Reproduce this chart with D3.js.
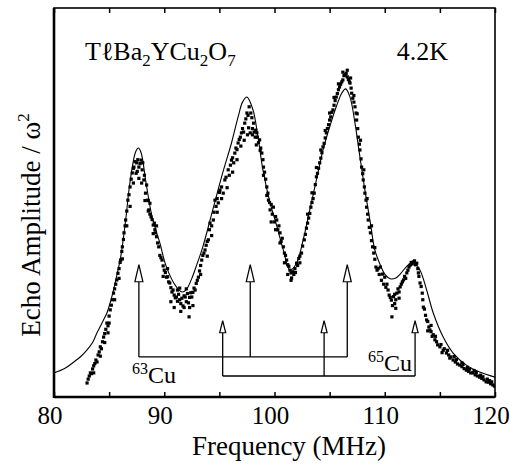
<!DOCTYPE html>
<html>
<head>
<meta charset="utf-8">
<script src="https://cdn.jsdelivr.net/npm/d3@7"></script>
<style>
  body { margin: 0; background: #fff; }
</style>
</head>
<body>
<svg id="chart" width="510" height="466"></svg>
<script>
// fitted line shape (frequency MHz, amplitude a.u.)
const fitCurve = [
  [80.0, 6.2], [81.0, 7.4], [81.8, 9.0], [82.5, 10.6], [83.0, 12.1], [83.5, 14.0], [83.9, 16.5],
  [84.4, 19.3], [84.8, 21.6], [85.1, 24.3], [85.4, 27.5], [85.7, 31.3], [86.05, 36.0], [86.5, 45.5],
  [86.8, 53.2], [87.1, 59.1], [87.4, 63.0], [87.65, 64.0], [87.9, 62.8], [88.35, 55.0], [88.9, 46.3],
  [89.6, 39.6], [90.2, 33.4], [91.1, 28.3], [91.6, 27.0], [92.0, 27.6], [92.5, 30.5], [93.0, 34.4],
  [93.5, 38.6], [94.4, 48.1], [95.3, 57.6], [96.1, 65.3], [96.7, 72.0], [97.1, 75.8], [97.5, 77.1],
  [98.05, 73.8], [98.5, 66.8], [98.95, 58.4], [99.6, 49.9], [100.2, 44.0], [100.8, 37.8], [101.4, 32.6],
  [102.0, 34.4], [102.6, 40.4], [103.2, 48.1], [103.8, 55.8], [104.4, 63.5], [105.0, 69.4], [105.6, 74.6],
  [106.1, 78.1], [106.45, 79.2], [106.85, 77.1], [107.3, 70.4], [107.75, 61.7], [108.2, 53.2],
  [108.7, 44.7], [109.1, 37.8], [109.6, 33.9], [110.0, 31.6], [110.5, 30.4], [111.0, 30.6], [111.4, 31.6],
  [112.0, 33.6], [112.6, 34.7], [113.2, 32.6], [113.8, 27.5], [114.4, 21.6], [115.3, 15.4], [116.2, 11.3],
  [117.4, 8.2], [118.6, 6.4], [120.0, 5.1]
];

// measured echo points
const echoMain = [
  [83.0, 3.6], [83.1, 4.6], [83.2, 5.4], [83.3, 6.2], [83.4, 6.0], [83.5, 7.2], [83.6, 8.0], [83.7, 8.6],
  [83.8, 9.5], [83.9, 9.0], [84.0, 10.8], [84.1, 11.6], [84.2, 12.9], [84.3, 12.4], [84.4, 14.2], [84.5, 15.4],
  [84.6, 16.3], [84.7, 17.4], [84.8, 19.0], [84.9, 18.3], [85.0, 20.8], [85.1, 22.4], [85.2, 23.6], [85.3, 25.0],
  [85.4, 26.7], [85.5, 27.8], [85.6, 29.0], [85.7, 30.1], [85.8, 31.8], [85.9, 33.0], [86.0, 34.6], [86.05, 35.2],
  [86.15, 37.4], [86.2, 38.6], [86.3, 40.5], [86.35, 42.2], [86.45, 44.0], [86.5, 45.5], [86.6, 47.8], [86.7, 50.6],
  [86.8, 52.0], [86.9, 54.0], [87.0, 56.0], [87.1, 57.6], [87.2, 58.8], [87.25, 59.1], [87.35, 60.5], [87.5, 60.2],
  [87.55, 58.0], [87.6, 61.0], [87.7, 59.1], [87.8, 60.0], [87.9, 60.9], [88.0, 58.4], [88.05, 60.2], [88.15, 55.8],
  [88.2, 57.0], [88.3, 52.4], [88.4, 54.5], [88.5, 50.6], [88.55, 47.8], [88.6, 48.1], [88.7, 47.0], [88.8, 46.3],
  [88.9, 45.6], [89.0, 44.2], [89.1, 44.7], [89.15, 43.0], [89.2, 42.2], [89.3, 41.2], [89.4, 39.6], [89.5, 38.6],
  [89.6, 36.4], [89.7, 35.8], [89.8, 35.2], [89.9, 33.7], [90.0, 32.6], [90.1, 32.0], [90.2, 30.8], [90.3, 30.9],
  [90.4, 29.6], [90.5, 29.3], [90.6, 28.1], [90.7, 27.0], [90.8, 27.5], [90.9, 26.2], [91.0, 25.5], [91.1, 25.7],
  [91.2, 24.6], [91.3, 26.4], [91.4, 25.0], [91.5, 24.0], [91.6, 25.4], [91.7, 23.4], [91.8, 26.0], [91.9, 25.7],
  [92.0, 24.5], [92.1, 26.6], [92.2, 24.2], [92.25, 20.6], [92.3, 23.0], [92.4, 26.8], [92.5, 25.7], [92.6, 26.9],
  [92.7, 28.0], [92.8, 27.5], [92.9, 29.2], [93.0, 30.0], [93.1, 30.8], [93.2, 32.4], [93.3, 33.8], [93.4, 35.2],
  [93.5, 36.4], [93.6, 37.0], [93.7, 37.8], [93.8, 39.0], [93.9, 40.0], [94.0, 40.4], [94.1, 43.0], [94.15, 44.7],
  [94.3, 44.0], [94.45, 45.5], [94.5, 47.5], [94.6, 50.6], [94.7, 49.0], [94.8, 51.0], [94.9, 49.9], [95.0, 52.6],
  [95.05, 53.2], [95.2, 54.0], [95.35, 52.4], [95.5, 55.8], [95.6, 56.5], [95.8, 58.4], [95.9, 57.0], [96.0, 59.6],
  [96.1, 60.9], [96.2, 61.5], [96.3, 60.2], [96.4, 62.7], [96.5, 64.0], [96.6, 63.6], [96.7, 65.3], [96.8, 66.2],
  [96.9, 66.8], [97.0, 67.9], [97.1, 69.0], [97.2, 68.1], [97.3, 70.4], [97.4, 71.5], [97.5, 73.0], [97.55, 67.4],
  [97.6, 72.4], [97.7, 74.6], [97.8, 67.9], [97.85, 73.0], [97.95, 71.8], [98.0, 69.0], [98.1, 70.4], [98.15, 68.1],
  [98.25, 66.8], [98.3, 68.6], [98.4, 67.9], [98.45, 66.8], [98.55, 65.4], [98.65, 66.1], [98.75, 64.0], [98.85, 62.7],
  [98.95, 61.0], [99.0, 59.1], [99.1, 57.8], [99.2, 56.0], [99.3, 54.0], [99.4, 52.4], [99.45, 50.6], [99.55, 50.0],
  [99.6, 48.1], [99.7, 49.5], [99.8, 47.0], [99.9, 48.8], [100.0, 45.0], [100.1, 46.4], [100.2, 45.5], [100.3, 43.0],
  [100.4, 44.0], [100.5, 42.2], [100.6, 40.0], [100.7, 40.8], [100.8, 38.6], [100.9, 37.0], [101.0, 36.4], [101.1, 35.2],
  [101.2, 34.0], [101.3, 33.6], [101.4, 32.6], [101.5, 31.9], [101.55, 30.6], [101.65, 32.2], [101.75, 31.5], [101.85, 33.0],
  [102.0, 34.4], [102.1, 33.8], [102.2, 35.6], [102.3, 36.2], [102.45, 37.0], [102.55, 38.8], [102.7, 40.4], [102.8, 41.8],
  [102.9, 43.4], [103.0, 44.7], [103.1, 46.0], [103.2, 47.2], [103.3, 48.8], [103.4, 50.0], [103.5, 51.0], [103.6, 52.4],
  [103.7, 54.6], [103.8, 56.6], [103.9, 57.5], [104.0, 58.8], [104.1, 60.2], [104.2, 61.4], [104.3, 62.8], [104.4, 64.3],
  [104.5, 65.2], [104.6, 66.6], [104.7, 67.9], [104.8, 69.0], [104.9, 70.0], [105.0, 71.2], [105.1, 72.0], [105.2, 73.2],
  [105.3, 73.8], [105.4, 75.0], [105.5, 76.2], [105.6, 77.1], [105.7, 78.0], [105.8, 79.0], [105.9, 79.7], [106.0, 80.4],
  [106.1, 81.0], [106.2, 81.5], [106.3, 82.6], [106.4, 82.8], [106.5, 83.2], [106.6, 82.3], [106.7, 81.6], [106.8, 81.0],
  [106.85, 80.7], [106.95, 79.4], [107.0, 78.1], [107.1, 76.8], [107.2, 75.8], [107.3, 74.6], [107.4, 73.0], [107.45, 71.2],
  [107.55, 69.0], [107.6, 66.8], [107.7, 65.0], [107.75, 63.5], [107.85, 61.2], [107.9, 59.1], [108.0, 57.4], [108.05, 55.8],
  [108.15, 54.0], [108.2, 52.4], [108.3, 50.6], [108.35, 48.8], [108.45, 47.0], [108.5, 45.5], [108.6, 43.6], [108.7, 42.2],
  [108.8, 40.2], [108.9, 38.6], [109.0, 37.0], [109.1, 35.4], [109.2, 33.4], [109.3, 32.6], [109.4, 33.0], [109.5, 31.5],
  [109.6, 33.4], [109.7, 30.0], [109.8, 31.6], [109.9, 29.0], [110.0, 30.8], [110.1, 28.2], [110.2, 29.0], [110.3, 27.5],
  [110.4, 26.2], [110.5, 25.6], [110.6, 24.9], [110.65, 20.6], [110.7, 23.5], [110.8, 25.8], [110.9, 26.4], [111.0, 25.0],
  [111.1, 26.7], [111.2, 27.8], [111.3, 27.0], [111.4, 28.3], [111.5, 29.0], [111.6, 29.6], [111.7, 30.1], [111.8, 31.0],
  [111.9, 30.5], [112.0, 31.9], [112.1, 32.6], [112.2, 33.4], [112.3, 33.9], [112.4, 34.6], [112.5, 34.2], [112.6, 34.7],
  [112.7, 35.0], [112.8, 34.0], [112.9, 34.4], [113.0, 33.0], [113.05, 31.9], [113.1, 31.0], [113.2, 29.3], [113.3, 28.4],
  [113.4, 26.7], [113.45, 25.0], [113.5, 23.1], [113.6, 22.6], [113.7, 21.0], [113.8, 19.8], [113.9, 19.4], [114.0, 18.0],
  [114.1, 17.2], [114.2, 16.8], [114.3, 15.6], [114.4, 16.0], [114.55, 14.7], [114.7, 14.2], [114.8, 13.4], [115.0, 12.9],
  [115.1, 13.5], [115.3, 12.0], [115.4, 12.4], [115.6, 11.3], [115.8, 10.8], [115.9, 10.0], [116.0, 10.3], [116.2, 9.5],
  [116.4, 9.0], [116.5, 9.6], [116.6, 8.5], [116.8, 8.2], [117.0, 7.8], [117.1, 8.4], [117.2, 7.3], [117.4, 6.9],
  [117.6, 6.6], [117.7, 7.2], [117.8, 6.2], [118.0, 6.2], [118.2, 5.7], [118.3, 6.3], [118.4, 5.4], [118.6, 5.1],
  [118.8, 4.8], [118.9, 5.2], [119.0, 4.4], [119.2, 3.9], [119.4, 3.8], [119.5, 4.2], [119.6, 3.4], [119.8, 3.1],
  [119.95, 2.8]
];

// second sweep, scattered around the first
const echoExtra = [
  [83.6, 6.2], [84.2, 10.5], [84.6, 14.0], [84.9, 16.5], [85.0, 19.0], [85.5, 25.0], [85.9, 30.5], [86.2, 35.5],
  [86.6, 44.0], [86.9, 49.0], [87.2, 55.0], [87.45, 57.5], [87.7, 56.2], [87.95, 55.0], [88.25, 50.5], [88.55, 50.5],
  [88.7, 49.8], [89.0, 42.0], [89.3, 44.0], [89.9, 31.0], [90.3, 33.0],
  [90.6, 24.5], [90.9, 23.0], [91.2, 27.5], [91.4, 28.0], [91.5, 22.0], [91.8, 23.0], [92.0, 27.8], [92.3, 25.6], [92.6, 23.5],
  [93.3, 31.5], [93.9, 36.2], [94.3, 41.5], [94.8, 47.5], [95.2, 51.0], [95.7, 53.8], [96.2, 57.8], [96.6, 61.0],
  [96.95, 64.5], [97.25, 66.0], [97.65, 69.2], [98.0, 67.4], [98.35, 64.8], [98.7, 63.4], [99.0, 57.0], [99.3, 51.8],
  [99.7, 45.0], [100.1, 43.0], [100.5, 39.6], [100.9, 34.5], [101.2, 31.5], [101.5, 30.0], [101.9, 32.0], [102.3, 34.5],
  [103.0, 47.0], [103.4, 52.5], [103.8, 59.0], [104.2, 63.5], [104.6, 68.5], [105.0, 73.0], [105.4, 77.0], [105.8, 80.5],
  [106.2, 83.5], [106.6, 84.0], [106.9, 82.0], [107.2, 77.5], [107.5, 72.8], [107.8, 66.0], [108.1, 58.4], [108.4, 51.0],
  [108.8, 44.0], [109.1, 38.4], [110.9, 24.0], [111.0, 22.8], [111.3, 25.4],
  [113.9, 17.0], [114.2, 18.4], [114.6, 15.6], [115.2, 11.4], [115.7, 12.0], [116.3, 10.4], [117.0, 8.8], [117.5, 7.6],
  [118.1, 6.8], [118.7, 5.6], [119.3, 4.6], [119.7, 3.9]
];

// line positions marked by arrows (MHz)
const cu63Lines = [87.7, 97.8, 106.6];
const cu65Lines = [95.3, 104.5, 112.75];
const xTickLabels = [80, 90, 100, 110, 120];

const serif = "'Liberation Serif', 'Times New Roman', Times, serif";

const svg = d3.select("#chart");
const plotL = 54, plotR = 495, plotT = 8, plotB = 397;

const x = d3.scaleLinear().domain([80, 120]).range([plotL, plotR]);
const y = d3.scaleLinear().domain([0, 100]).range([plotB, plotT]);

// clip so nothing spills out of the frame
svg.append("clipPath").attr("id", "plotClip")
    .append("rect")
    .attr("x", plotL).attr("y", plotT)
    .attr("width", plotR - plotL).attr("height", plotB - plotT);

const plot = svg.append("g").attr("clip-path", "url(#plotClip)");

const line = d3.line()
    .x(d => x(d[0]))
    .y(d => y(d[1]))
    .curve(d3.curveCatmullRom.alpha(0.5));

plot.append("path")
    .datum(fitCurve)
    .attr("d", line)
    .attr("fill", "none")
    .attr("stroke", "#000")
    .attr("stroke-width", 1.1);

plot.selectAll(".dot")
    .data(echoMain.concat(echoExtra))
    .enter()
    .append("rect")
    .attr("class", "dot")
    .attr("x", d => x(d[0]) - 1.6)
    .attr("y", d => y(d[1]) - 1.6)
    .attr("width", 3.2)
    .attr("height", 3.2)
    .attr("fill", "#000");

// arrow sets
function arrowSet(freqs, baseAmp, tipAmp, headLen, headW) {
    const g = svg.append("g")
        .attr("stroke", "#000")
        .attr("stroke-width", 1.3);
    const yb = y(baseAmp), yt = y(tipAmp);

    g.append("line")
        .attr("x1", x(freqs[0])).attr("x2", x(freqs[freqs.length - 1]))
        .attr("y1", yb).attr("y2", yb);

    g.selectAll(".stem")
        .data(freqs)
        .enter()
        .append("line")
        .attr("x1", d => x(d)).attr("x2", d => x(d))
        .attr("y1", yb).attr("y2", yt + headLen);

    g.selectAll(".head")
        .data(freqs)
        .enter()
        .append("path")
        .attr("d", d => `M${x(d)},${yt} L${x(d) - headW / 2},${yt + headLen} L${x(d) + headW / 2},${yt + headLen} Z`)
        .attr("fill", "#fff")
        .attr("stroke-width", 1.2);
}

arrowSet(cu63Lines, 10.3, 34.0, 17, 8);
arrowSet(cu65Lines, 5.4, 19.6, 12, 6);

function addText(xp, yp, size, anchor) {
    return svg.append("text")
        .attr("x", xp).attr("y", yp)
        .attr("text-anchor", anchor || "start")
        .style("font-family", serif)
        .style("font-size", size + "px")
        .attr("fill", "#000");
}

const lab63 = addText(132, 383, 24);
lab63.append("tspan").style("font-size", "16px").attr("dy", -9).text("63");
lab63.append("tspan").attr("dy", 9).text("Cu");

const lab65 = addText(368, 371, 24);
lab65.append("tspan").style("font-size", "16px").attr("dy", -9).text("65");
lab65.append("tspan").attr("dy", 9).text("Cu");

// frame
svg.append("rect")
    .attr("x", plotL).attr("y", plotT)
    .attr("width", plotR - plotL).attr("height", plotB - plotT)
    .attr("fill", "none")
    .attr("stroke", "#000")
    .attr("stroke-width", 1.6);

svg.append("line").attr("x1", plotL).attr("x2", plotL).attr("y1", plotT).attr("y2", plotB + 1)
    .attr("stroke", "#000").attr("stroke-width", 2.6);
svg.append("line").attr("x1", plotL).attr("x2", plotR).attr("y1", plotB).attr("y2", plotB)
    .attr("stroke", "#000").attr("stroke-width", 2.6);

// inward tick marks on bottom and top
const tickVals = d3.range(80, 121, 5);
svg.append("g")
    .attr("transform", `translate(0,${plotB})`)
    .call(d3.axisBottom(x).tickValues(tickVals).tickSize(-5).tickFormat(""))
    .call(g => g.select(".domain").remove())
    .selectAll("line").attr("stroke-width", 1.5);

svg.append("g")
    .attr("transform", `translate(0,${plotT})`)
    .call(d3.axisTop(x).tickValues(tickVals).tickSize(-5).tickFormat(""))
    .call(g => g.select(".domain").remove())
    .selectAll("line").attr("stroke-width", 1.5);

// tick labels
xTickLabels.forEach(v => {
    addText(x(v) - 4, 424, 25, "middle").text(v);
});

addText(289, 455, 27, "middle").text("Frequency (MHz)");

const ylab = svg.append("text")
    .attr("transform", "translate(40,225) rotate(-90)")
    .attr("text-anchor", "middle")
    .style("font-family", serif)
    .style("font-size", "27px")
    .attr("fill", "#000");
ylab.append("tspan").text("Echo Amplitude / ω");
ylab.append("tspan").style("font-size", "17px").attr("dy", -11).text("2");

// compound and temperature
const title = addText(85, 60, 26);
title.append("tspan").text("Tℓ");
title.append("tspan").text("Ba");
title.append("tspan").style("font-size", "17px").attr("dy", 6).text("2");
title.append("tspan").attr("dy", -6).text("YCu");
title.append("tspan").style("font-size", "17px").attr("dy", 6).text("2");
title.append("tspan").attr("dy", -6).text("O");
title.append("tspan").style("font-size", "17px").attr("dy", 6).text("7");

addText(448, 60, 26, "end").text("4.2K");
</script>
</body>
</html>
